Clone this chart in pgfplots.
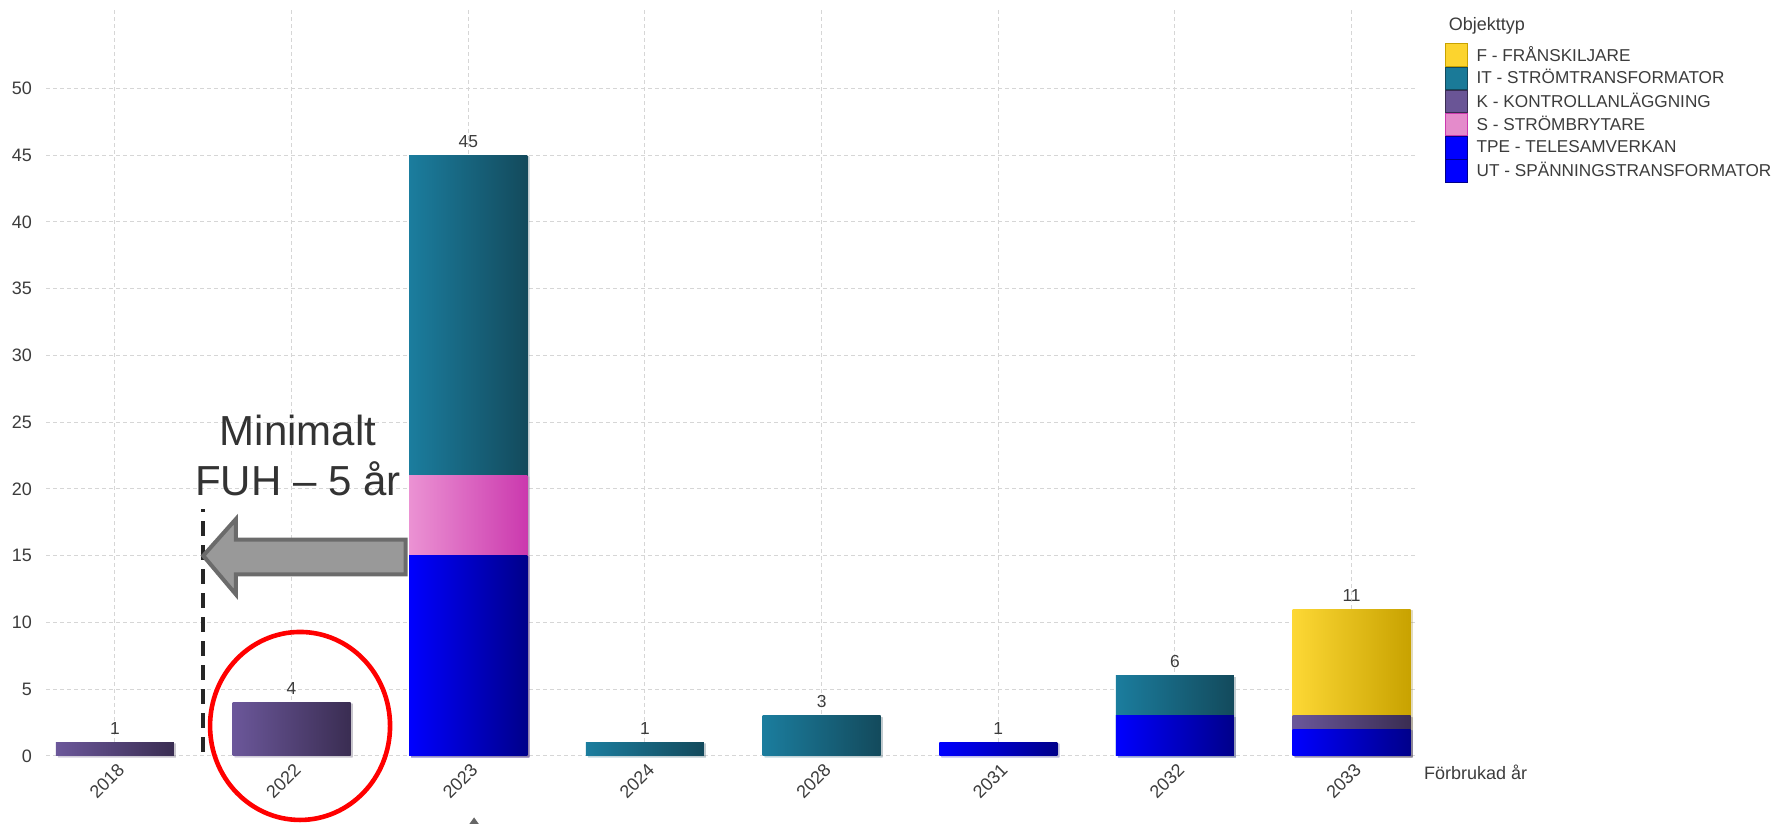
\documentclass[border=0pt]{standalone}
\usepackage{fontspec}
\setmainfont{Liberation Sans}
\usepackage{pgfplots}
\pgfplotsset{compat=1.18}
\usetikzlibrary{shadows}

\definecolor{txt}{HTML}{3C3C3C}
\definecolor{gridc}{HTML}{D6D6D6}
% bar gradients, left (light) and right (dark)
\definecolor{Fl}{HTML}{FDD835}\definecolor{Fr}{HTML}{C8A200}\definecolor{Fc}{HTML}{FCD42E}
\definecolor{ITl}{HTML}{1B7D9E}\definecolor{ITr}{HTML}{134A5C}\definecolor{ITc}{HTML}{1A7A98}
\definecolor{Kl}{HTML}{6B579A}\definecolor{Kr}{HTML}{3A2D52}\definecolor{Kc}{HTML}{6A5596}
\definecolor{Sl}{HTML}{EB92D3}\definecolor{Sr}{HTML}{CB39AE}\definecolor{Sc}{HTML}{E48BCB}
\definecolor{Bl}{HTML}{0000FF}\definecolor{Br}{HTML}{00008A}\definecolor{Bc}{HTML}{0000FF}

\newcommand{\lbl}{\fontsize{9}{10}\selectfont}
\newcommand{\leg}{\fontsize{8.6}{10}\selectfont}

% one bar segment per plot so that each gets its own gradient;
% y = top of the segment in the stack (drawn tallest first)
\pgfplotsset{seg/.style={ybar, bar width=0.668, bar shift=0pt, draw=none,
    left color=#1l, right color=#1r, forget plot,
    drop shadow={shadow xshift=1pt, shadow yshift=-0.6pt, opacity=0.18}}}

\begin{document}
\begin{tikzpicture}
\useasboundingbox (0,0) rectangle (895pt,412pt);
\begin{axis}[
    at={(23pt,34pt)}, anchor=south west,
    scale only axis, width=685.5pt, height=373.8pt,
    xmin=-0.39, xmax=7.37, ymin=0, ymax=56,
    xtick={0,...,7},
    xticklabels={2018,2022,2023,2024,2028,2031,2032,2033},
    ytick={0,5,...,50},
    grid=major,
    grid style={dash pattern=on 2pt off 1.5pt, color=gridc, line width=0.5pt},
    axis line style={draw=none},
    tick style={draw=none},
    clip=false,
    /pgf/number format/assume math mode=true,
    yticklabel style={font=\lbl, text=txt, xshift=-3.5pt},
    xticklabel style={font=\lbl, text=txt, rotate=45, anchor=east,
        inner sep=0pt, xshift=-1.4pt, yshift=-5.9pt},
    legend style={at={(1.0204,0.9537)}, anchor=north west, draw=none, fill=none,
        inner sep=0pt, row sep=0pt, column sep=4.6pt,
        nodes={inner sep=0pt, font=\leg, text=txt}},
    legend cell align=left,
    legend image code/.code={\draw[#1, line width=0.4pt] (0pt,-5.6pt) rectangle (10.65pt,5.6pt);},
]
\addlegendimage{fill=Fc, draw=Fr}
\addlegendentry{F - FRÅNSKILJARE}
\addlegendimage{fill=ITc, draw=ITr}
\addlegendentry{IT - STRÖMTRANSFORMATOR}
\addlegendimage{fill=Kc, draw=Kr}
\addlegendentry{K - KONTROLLANLÄGGNING}
\addlegendimage{fill=Sc, draw=Sr}
\addlegendentry{S - STRÖMBRYTARE}
\addlegendimage{fill=Bc, draw=Br}
\addlegendentry{TPE - TELESAMVERKAN}
\addlegendimage{fill=Bc, draw=Br}
\addlegendentry{UT - SPÄNNINGSTRANSFORMATOR}

% 2018: K 1
\addplot[seg=K] coordinates {(0,1)};
% 2022: K 4
\addplot[seg=K] coordinates {(1,4)};
% 2023: UT/TPE 15, S 6, IT 24
\addplot[seg=IT] coordinates {(2,45)};
\addplot[seg=S] coordinates {(2,21)};
\addplot[seg=B] coordinates {(2,15)};
% 2024: IT 1
\addplot[seg=IT] coordinates {(3,1)};
% 2028: IT 3
\addplot[seg=IT] coordinates {(4,3)};
% 2031: UT/TPE 1
\addplot[seg=B] coordinates {(5,1)};
% 2032: UT/TPE 3, IT 3
\addplot[seg=IT] coordinates {(6,6)};
\addplot[seg=B] coordinates {(6,3)};
% 2033: UT/TPE 2, K 1, F 8
\addplot[seg=F] coordinates {(7,11)};
\addplot[seg=K] coordinates {(7,3)};
\addplot[seg=B] coordinates {(7,2)};

% totals
\addplot[forget plot, draw=none, mark=none, nodes near coords,
    point meta=explicit symbolic,
    every node near coord/.style={anchor=base, yshift=4pt, font=\fontsize{8.7}{10}\selectfont, text=txt}]
    coordinates {(0,1) [1] (1,4) [4] (2,45) [45] (3,1) [1] (4,3) [3] (5,1) [1] (6,6) [6] (7,11) [11]};

% annotation
\draw[line width=2pt, color=black!85, dash pattern=on 7.5pt off 4.5pt]
    (axis cs:0.5,0.3) -- (axis cs:0.5,18.5);
\draw[line width=2pt, draw=black!58, fill=black!40]
    (axis cs:0.5,15) -- (axis cs:0.685,17.75) -- (axis cs:0.685,16.2) -- (axis cs:1.645,16.2)
    -- (axis cs:1.645,13.6) -- (axis cs:0.685,13.6) -- (axis cs:0.685,12.1) -- cycle;
\node[anchor=base, font=\fontsize{21}{25}\selectfont, text=black!80] at (axis cs:1.036,23.25) {Minimalt};
\node[anchor=base, font=\fontsize{21}{25}\selectfont, text=black!80] at (axis cs:1.036,19.55) {FUH – 5 år};
\draw[red, line width=2.3pt] (axis cs:1.048,2.25) ellipse [x radius=45pt, y radius=47pt];
\fill[black!60] (axis cs:2.005,-5.12) -- (axis cs:2.033,-4.6) -- (axis cs:2.061,-5.12) -- cycle;

\node[anchor=base west, font=\lbl, text=txt] at (axis description cs:1.018,0.971) {Objekttyp};
\node[anchor=base west, font=\lbl, text=txt] at (axis description cs:1.0,-0.032) {Förbrukad år};
\end{axis}
\end{tikzpicture}
\end{document}
